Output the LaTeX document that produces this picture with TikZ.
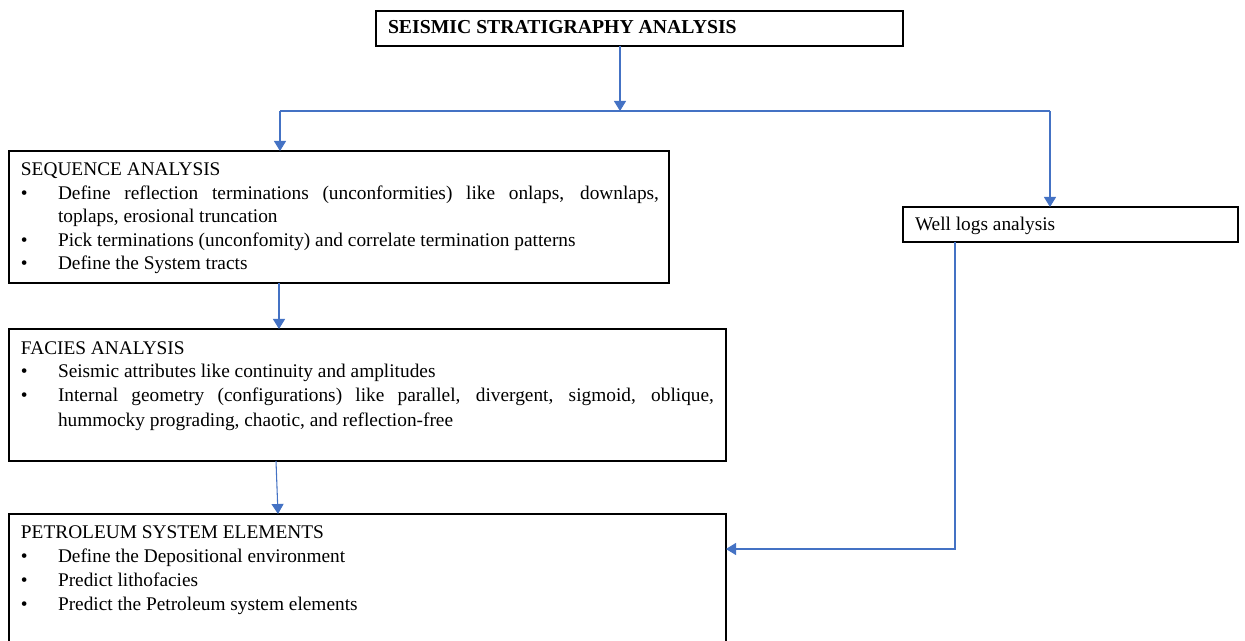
\documentclass[tikz,border=0pt]{standalone}
\usepackage{fontspec}
\setmainfont{Liberation Serif}
\usetikzlibrary{arrows.meta}
\definecolor{conn}{RGB}{68,114,196}
\tikzset{
  box/.style={draw=black, line width=1.1pt, inner sep=0pt, outer sep=0pt, fill=white},
  txt/.style={anchor=base west, inner sep=0pt, outer sep=0pt, font=\fontsize{14.5}{17}\selectfont},
  bul/.style={anchor=base west, inner sep=0pt, outer sep=0pt, font=\fontsize{14.5}{17}\selectfont},
  link/.style={draw=conn, line width=0.8pt},
  arr/.style={link, -{Triangle[width=9pt,length=7.5pt]}}
}
\newcommand\pxbox[5]{\node[box, minimum width=#4*0.75pt, minimum height=#5*0.75pt, anchor=north west] (#1) at (#2,#3) {};}
\begin{document}
\begin{tikzpicture}[x=0.75pt,y=-0.75pt]
\clip (0,0) rectangle (1245,641);
\fill[white] (0,0) rectangle (1245,641);
% boxes
\pxbox{top}{376}{11}{527}{35}
\pxbox{seq}{9}{151}{660}{132}
\pxbox{fac}{9}{329}{717}{132}
\pxbox{pet}{9}{514}{717}{160}
\pxbox{well}{903}{207}{335}{35}
% top text
\node[txt, font=\fontsize{14.8}{17}\selectfont\bfseries] (toptxt) at (388,34) {SEISMIC STRATIGRAPHY ANALYSIS};
% sequence
\node[txt] (s0) at (21,176) {SEQUENCE ANALYSIS};
\node[bul] (sb1) at (21,199.5) {\textbullet};
\node[txt] (s1) at (58,199.5) {\makebox[450.75pt][s]{Define reflection terminations (unconformities) like onlaps, downlaps,}};
\node[txt] (s2) at (58,223) {toplaps, erosional truncation};
\node[bul] (sb3) at (21,246.5) {\textbullet};
\node[txt] (s3) at (58,246.5) {Pick terminations (unconfomity) and correlate termination patterns};
\node[bul] (sb4) at (21,270) {\textbullet};
\node[txt] (s4) at (58,270) {Define the System tracts};
% facies
\node[txt] (f0) at (21,354) {FACIES ANALYSIS};
\node[bul] (fb1) at (21,378) {\textbullet};
\node[txt] (f1) at (58,378) {Seismic attributes like continuity and amplitudes};
\node[bul] (fb2) at (21,402) {\textbullet};
\node[txt] (f2) at (58,402) {\makebox[492pt][s]{Internal geometry (configurations) like parallel, divergent, sigmoid, oblique,}};
\node[txt] (f3) at (58,426) {hummocky prograding, chaotic, and reflection-free};
% petroleum
\node[txt] (p0) at (21,538) {PETROLEUM SYSTEM ELEMENTS};
\node[bul] (pb1) at (21,562) {\textbullet};
\node[txt] (p1) at (58,562) {Define the Depositional environment};
\node[bul] (pb2) at (21,586) {\textbullet};
\node[txt] (p2) at (58,586) {Predict lithofacies};
\node[bul] (pb3) at (21,610) {\textbullet};
\node[txt] (p3) at (58,610) {Predict the Petroleum system elements};
% well logs
\node[txt] (w0) at (915,231) {Well logs analysis};
% connectors
\coordinate (j) at (620,111);
\coordinate (jl) at (280,111);
\coordinate (jr) at (1050,111);
\coordinate (pe) at (726,549);
\draw[arr] (top.south -| j) -- (j);
\draw[link] (jl) -- (jr);
\draw[arr] (jl) -- (jl |- seq.north);
\draw[arr] (jr) -- (jr |- well.north);
\draw[arr] (seq.south -| 279,0) -- (fac.north -| 279,0);
\draw[arr] (fac.south -| 276,0) -- (pet.north -| 278,0);
\draw[arr] (well.south -| 955,0) |- (pe);
\end{tikzpicture}
\end{document}
